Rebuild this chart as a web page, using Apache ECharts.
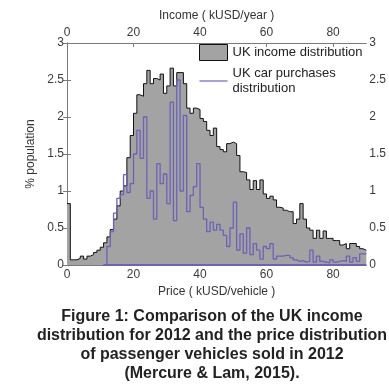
<!DOCTYPE html>
<html>
<head>
<meta charset="utf-8">
<style>
  html, body { margin: 0; padding: 0; background: #fff; }
  #main { width: 389px; height: 392px; }
</style>
<script src="https://cdn.jsdelivr.net/npm/echarts@6/dist/echarts.min.js"></script>
</head>
<body>
<div id="main"></div>
<script>
// bin width 1 kUSD, bins 0..89
var incomeShare = [
  0.83, 0.07, 0.07, 0.09, 0.12, 0.08, 0.12, 0.14, 0.17, 0.20,
  0.24, 0.30, 0.38, 0.48, 0.62, 0.80, 1.00, 1.07, 1.45, 1.75,
  2.05, 2.30, 2.28, 2.45, 2.63, 2.45, 2.52, 2.50, 2.58, 2.32,
  2.42, 2.66, 2.42, 2.60, 2.60, 2.45, 2.12, 2.05, 2.12, 2.10,
  1.98, 1.94, 1.82, 1.75, 1.85, 1.60, 1.56, 1.53, 1.64, 1.66,
  1.64, 1.48, 1.26, 1.25, 1.15, 1.02, 1.14, 1.02, 1.15, 0.96,
  0.90, 0.93, 0.88, 0.78, 0.77, 0.74, 0.72, 0.72, 0.56, 0.62,
  0.83, 0.62, 0.50, 0.47, 0.36, 0.47, 0.36, 0.46, 0.36, 0.36,
  0.33, 0.33, 0.27, 0.29, 0.22, 0.29, 0.29, 0.25, 0.22, 0.20
];
var carShare = [
  null, null, null, null, null, null, null, null, null, null,
  null, 0.00, 0.25, 0.45, 0.70, 0.90, 0.95, 1.22, 0.98, 1.10,
  1.50, 1.82, 1.44, 2.00, 0.90, 1.00, 0.62, 1.37, 1.10, 1.23,
  0.83, 2.20, 0.60, 2.50, 1.00, 2.02, 0.72, 0.94, 1.06, 1.37,
  0.78, 0.62, 0.45, 0.58, 0.47, 0.55, 0.47, 0.40, 0.25, 0.50,
  0.85, 0.20, 0.42, 0.16, 0.50, 0.14, 0.29, 0.20, 0.08, 0.25,
  0.22, 0.29, 0.08, 0.12, 0.12, 0.13, 0.13, 0.10, 0.07, 0.05,
  0.06, 0.04, 0.05, 0.20, 0.04, 0.12, 0.05, 0.04, 0.03, 0.07,
  0.04, 0.05, 0.06, 0.05, 0.12, 0.04, 0.10, 0.05, 0.15, 0.15
];
var incomeName = 'UK income distribution';
var carName = 'UK car purchases distribution';
var captionLines = [
  'Figure 1: Comparison of the UK income',
  'distribution for 2012 and the price distribution',
  'of passenger vehicles sold in 2012',
  '(Mercure & Lam, 2015).'
];

var xMax = incomeShare.length;

function stepData(arr) {
  var out = [];
  arr.forEach(function (v, i) { if (v !== null) out.push([i, v]); });
  out.push([xMax, arr[arr.length - 1]]);
  return out;
}
var carStart = carShare.findIndex(function (v) { return v !== null; });

var purple = '#6d62b6';
var axisColor = '#7a7a7a';
var labelStyle = { color: '#3a3a3a', fontSize: 12, fontFamily: 'Liberation Sans, Arial' };

function xAx(pos, name, gap) {
  return {
    type: 'value', position: pos, min: 0, max: xMax, interval: 20,
    name: name, nameLocation: 'middle', nameGap: gap,
    nameTextStyle: { color: '#333', fontSize: 12, fontFamily: 'Liberation Sans, Arial' },
    axisLine: { show: true, onZero: false, lineStyle: { color: axisColor } },
    axisTick: { inside: true, length: 4, lineStyle: { color: axisColor } },
    axisLabel: Object.assign({ margin: 4, showMaxLabel: false }, labelStyle),
    splitLine: { show: false }
  };
}
function yAx(pos, name) {
  return {
    type: 'value', position: pos, min: 0, max: 3, interval: 0.5,
    name: name, nameLocation: 'middle', nameGap: 18,
    nameTextStyle: { color: '#333', fontSize: 12, fontFamily: 'Liberation Sans, Arial' },
    axisLine: { show: true, lineStyle: { color: axisColor } },
    axisTick: { inside: true, length: 4, lineStyle: { color: axisColor } },
    axisLabel: Object.assign({ margin: 3 }, labelStyle),
    splitLine: { show: false }
  };
}

var myChart = echarts.init(document.getElementById('main'));
var option = {
  animation: false,
  backgroundColor: '#fff',
  title: {
    text: captionLines.join('\n'),
    left: 207, top: 302, textAlign: 'center',
    textStyle: { fontSize: 16, fontWeight: 'bold', color: '#222', lineHeight: 19, fontFamily: 'Liberation Sans, Arial' }
  },
  legend: {
    orient: 'vertical', left: 199, top: 44, itemGap: 5, padding: 0,
    itemWidth: 28, itemHeight: 16,
    textStyle: { color: '#222', fontSize: 13, fontFamily: 'Liberation Sans, Arial', lineHeight: 15 },
    formatter: function (n) { return n === carName ? 'UK car purchases\ndistribution' : n; },
    data: [
      { name: incomeName, icon: 'rect', itemStyle: { color: '#a3a3a3', borderColor: '#111', borderWidth: 1 } },
      { name: carName, icon: 'path://M0,0 L28,0 L28,1.2 L0,1.2 Z', itemHeight: 2,
        itemStyle: { color: purple, borderWidth: 0 } }
    ]
  },
  grid: { left: 67, right: 22, top: 43, bottom: 127, containLabel: false },
  xAxis: [xAx('bottom', 'Price ( kUSD/vehicle )', 17), xAx('top', 'Income ( kUSD/year )', 20)],
  yAxis: [yAx('left', '% population'), yAx('right', '')],
  series: [
    {
      name: incomeName, type: 'line', step: 'end', symbol: 'none',
      data: stepData(incomeShare),
      lineStyle: { color: '#111', width: 1 },
      itemStyle: { color: '#a3a3a3' },
      areaStyle: { color: '#a3a3a3', opacity: 1 },
      z: 2
    },
    {
      name: carName, type: 'line', step: 'end', symbol: 'none',
      data: stepData(carShare),
      lineStyle: { color: purple, width: 1.3 },
      itemStyle: { color: purple },
      z: 3
    },
    {
      name: 'base', type: 'line', symbol: 'none', silent: true,
      data: [[carStart, 0], [xMax, 0]],
      lineStyle: { color: purple, width: 2 },
      z: 4
    }
  ]
};
myChart.setOption(option);
</script>
</body>
</html>
